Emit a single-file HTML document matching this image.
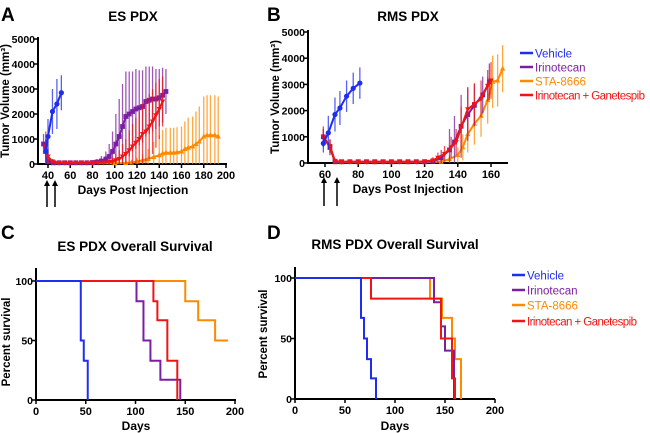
<!DOCTYPE html>
<html><head><meta charset="utf-8"><style>
body{margin:0;background:#fff}
svg{display:block;font-family:"Liberation Sans",Arial,sans-serif;font-weight:bold}
</style></head><body>
<svg id="fig" width="650" height="433" viewBox="0 0 650 433">
<g id="static"></g>
</svg>
<script>
// ---- Panel A data (ES PDX tumor volume) ----
const aVehDays=[38,40,44,48,52];
const aVehVal=[500,1100,2100,2400,2850];
const aVehErr=[500,700,900,1000,700];
const aIriDays=[36,40,45,50,55,60,65,70,75,80,84,88,92,95,98,101,104,107,110,113,116,119,122,125,128,131,134,137,140,143,146];
const aIriVal=[800,100,50,50,50,50,50,50,50,60,80,120,200,300,500,800,1100,1500,1900,2000,2100,2200,2250,2300,2500,2550,2600,2600,2650,2750,2900];
const aIriErr=[400,100,50,50,50,50,50,50,50,80,120,200,300,500,800,1200,1500,1700,1800,1700,1600,1600,1500,1450,1400,1350,1300,1200,1150,1100,900];
const aRedDays=[38,40,44,50,55,60,65,70,75,80,85,90,95,98,101,104,107,110,113,116,119,122,125,128,131,134,137,140,143];
const aRedVal=[700,300,100,50,50,50,50,50,50,50,50,60,80,100,150,200,300,400,550,700,850,1000,1200,1300,1500,1700,1950,2200,2500];
const aRedErr=[600,300,100,50,50,50,50,50,50,50,50,60,100,150,250,350,500,600,800,900,1000,1100,1200,1300,1300,1300,1300,1200,1000];
const aStaDays=[40,45,60,80,100,110,115,120,125,130,135,140,143,146,150,153,156,160,163,166,170,173,176,180,183,186,190,193];
const aStaVal=[100,30,30,30,30,40,60,100,150,200,280,350,420,450,450,450,470,500,600,650,700,800,900,1100,1150,1150,1150,1100];
const aStaErr=[100,30,30,30,30,50,80,150,250,400,600,800,950,1000,1000,1000,1000,1000,1100,1200,1200,1300,1400,1600,1600,1600,1600,1600];
// ---- Panel B data (RMS PDX tumor volume) ----
const bVehDays=[59,62,66,69,73,77,81];
const bVehVal=[750,1150,1850,2100,2550,2850,3050];
const bVehErr=[350,650,650,650,600,600,600];
const bIriDays=[59,63,66,70,75,80,85,90,95,100,105,110,115,120,125,130,135,138,142,146,150,155,159];
const bIriVal=[1000,600,50,50,50,50,50,50,50,50,50,50,50,50,60,200,500,800,1400,1850,2200,2600,3100];
const bIriErr=[300,300,50,50,50,50,50,50,50,50,50,50,50,50,100,300,800,1000,1200,1000,800,700,700];
const bStaDays=[59,63,66,70,80,90,100,110,120,130,135,140,143,146,150,154,158,161,164,167];
const bStaVal=[1000,600,30,30,30,30,30,30,30,50,150,300,600,1100,1500,1800,2400,3100,3150,3600];
const bStaErr=[300,300,30,30,30,30,30,30,30,50,150,300,500,700,800,800,900,1000,1000,900];
const bRedDays=[59,63,66,70,75,80,85,90,95,100,105,110,115,120,125,128,132,136,139,142,146,150,154,158,160];
const bRedVal=[1000,650,80,50,50,50,50,50,50,50,50,50,50,60,100,200,350,600,800,1350,2050,2250,2450,2950,3150];
const bRedErr=[400,250,100,80,80,80,80,80,80,80,80,80,80,80,120,200,300,400,500,800,850,800,700,600,700];
// ---- Panel C data (ES survival) ----
const cVehT=[0,45,48,52];const cVehS=[100,50,33,0];
const cIriT=[0,101,108,115,125,145];const cIriS=[100,83,50,33,17,0];
const cRedT=[0,118,122,132,142];const cRedS=[100,83,67,33,0];
const cStaT=[0,150,163,180,193];const cStaS=[100,83,67,50,50];
// ---- Panel D data (RMS survival) ----
const dVehT=[0,66,69,72,76,81];const dVehS=[100,67,50,33,17,0];
const dIriT=[0,139,146,150,159];const dIriS=[100,80,60,40,0];
const dStaT=[0,135,147,157,160,166];const dStaS=[100,83,67,50,33,0];
const dRedT=[0,76,146,157,160];const dRedS=[100,83,50,17,0];
const legendNames=["Vehicle","Irinotecan","STA-8666","Irinotecan + Ganetespib"];
const colors=["#1f2df0","#7b1fa2","#ff8a00","#f01414"];
const volTicks=[0,1000,2000,3000,4000,5000];
const aXTicks=[40,60,80,100,120,140,160,180,200];
const bXTicks=[60,80,100,120,140,160];
const survYTicks=[0,50,100];
const survXTicks=[0,50,100,150,200];

const NS="http://www.w3.org/2000/svg";
const svg=document.getElementById('fig');
function el(tag,attrs,parent,text){const e=document.createElementNS(NS,tag);for(const k in attrs)e.setAttribute(k,attrs[k]);if(text!==undefined)e.textContent=text;(parent||svg).appendChild(e);return e;}

const axA={x:d=>48+(d-40)*1.1125,y:v=>164-v*0.025};
const axB={x:d=>325+(d-60)*1.66,y:v=>163-v*0.0262};
const axC={x:d=>36+d*0.995,y:p=>400-p*1.19};
const axD={x:d=>295+d*1.0,y:p=>399-p*1.21};

function txt(x,y,s,size,anchor,name,fill,extra){const t=el('text',Object.assign({x:x,y:y,'font-size':size,'text-anchor':anchor||'start',fill:fill||'#000'},extra||{}),svg,s);

return t;}

function axes(ax,x0,x1,yTop,yTicks,xTicks,yfmt,prefix){
  const g=el('g',{});
  
  
  const yb=ax.y(yTicks[0]);
  el('line',{x1:x0,y1:yTop,x2:x0,y2:yb+1,stroke:'#000','stroke-width':2},g);
  el('line',{x1:x0-1,y1:yb,x2:x1,y2:yb,stroke:'#000','stroke-width':2},g);
  yTicks.forEach(v=>{const y=ax.y(v);el('line',{x1:x0-4,y1:y,x2:x0,y2:y,stroke:'#000','stroke-width':1.5},g);
    const t=el('text',{x:x0-3,y:y+4,'font-size':10.5,'text-anchor':'end'},g,v);
    
    });
  xTicks.forEach(d=>{const x=ax.x(d);el('line',{x1:x,y1:yb,x2:x,y2:yb+4,stroke:'#000','stroke-width':1.5},g);
    const t=el('text',{x:x,y:yb+15,'font-size':11,'text-anchor':'middle'},g,d);
    
    });
}

function series(ax,days,vals,errs,color,marker,name){
  const g=el('g',{});
  
  
  days.forEach((d,i)=>{const x=ax.x(d);el('line',{x1:x,y1:ax.y(Math.max(0,vals[i]-errs[i])),x2:x,y2:ax.y(vals[i]+errs[i]),stroke:color,'stroke-width':1.3,'stroke-opacity':0.75},g);});
  el('polyline',{points:days.map((d,i)=>ax.x(d)+','+ax.y(vals[i])).join(' '),fill:'none',stroke:color,'stroke-width':2},g);
  days.forEach((d,i)=>{const x=ax.x(d),y=ax.y(vals[i]);let m;
    if(marker==='o')m=el('circle',{cx:x,cy:y,r:2.6,fill:color},g);
    else if(marker==='s')m=el('rect',{x:x-2.4,y:y-2.4,width:4.8,height:4.8,fill:color},g);
    else if(marker==='^')m=el('polygon',{points:`${x},${y-3} ${x-2.6},${y+2} ${x+2.6},${y+2}`,fill:color},g);
    else m=el('polygon',{points:`${x},${y+3} ${x-2.6},${y-2} ${x+2.6},${y-2}`,fill:color},g);
    
    });
}

function step(ax,T,S,color,name){
  let pts=[];for(let i=0;i<T.length;i++){if(i>0)pts.push(ax.x(T[i])+','+ax.y(S[i-1]));pts.push(ax.x(T[i])+','+ax.y(S[i]));}
  const p=el('polyline',{points:pts.join(' '),fill:'none',stroke:color,'stroke-width':2});
  
  
}

function legend(x,ys,prefix){
  legendNames.forEach((n,i)=>{const g=el('g',{});
    
    
    el('line',{x1:x,y1:ys[i],x2:x+13,y2:ys[i],stroke:colors[i],'stroke-width':2.5},g);
    const a={x:x+15,y:ys[i]+4.5,'font-size':11.5,'font-weight':'normal',fill:colors[i]};
    if(i===3){a.textLength=110;a.lengthAdjust='spacing';}
    el('text',a,g,n);});
}
function arrow(x,y1,y2,name){const g=el('g',{});
  
  
  el('line',{x1:x,y1:y1+4,x2:x,y2:y2,stroke:'#000','stroke-width':1.5},g);
  el('polygon',{points:`${x},${y1} ${x-3},${y1+6} ${x+3},${y1+6}`,fill:'#000'},g);}

// Panel A
txt(1,21,'A',19,'start','panel-a-label');
txt(133,21,'ES PDX',13.5,'middle','panel-a-title');
axes(axA,38,227,37,volTicks,aXTicks,null,'panel-a');
series(axA,aStaDays,aStaVal,aStaErr,colors[2],'^','panel-a-sta8666');
series(axA,aIriDays,aIriVal,aIriErr,colors[1],'s','panel-a-irinotecan');
series(axA,aRedDays,aRedVal,aRedErr,colors[3],'v','panel-a-combo');
series(axA,aVehDays,aVehVal,aVehErr,colors[0],'o','panel-a-vehicle');
txt(133,194,'Days Post Injection',12,'middle','panel-a-x-axis-title');
txt(9,101,'Tumor Volume (mm³)',11.5,'middle','panel-a-y-axis-title','#000',{transform:'rotate(-90 9 101)'});
arrow(47,180,207,'panel-a-dose-arrow-1');arrow(55,180,207,'panel-a-dose-arrow-2');
// Panel B
txt(267,21,'B',19,'start','panel-b-label');
txt(408,21,'RMS PDX',13.5,'middle','panel-b-title');
axes(axB,308,508,30,volTicks,bXTicks,null,'panel-b');
series(axB,bStaDays,bStaVal,bStaErr,colors[2],'^','panel-b-sta8666');
series(axB,bIriDays,bIriVal,bIriErr,colors[1],'s','panel-b-irinotecan');
series(axB,bRedDays,bRedVal,bRedErr,colors[3],'v','panel-b-combo');
series(axB,bVehDays,bVehVal,bVehErr,colors[0],'o','panel-b-vehicle');
txt(408,193,'Days Post Injection',12,'middle','panel-b-x-axis-title');
txt(279,97,'Tumor Volume (mm³)',11.5,'middle','panel-b-y-axis-title','#000',{transform:'rotate(-90 279 97)'});
arrow(324,177,206,'panel-b-dose-arrow-1');arrow(337,177,206,'panel-b-dose-arrow-2');
legend(520,[53,67,81,95],'panel-b');
// Panel C
txt(1,239,'C',19,'start','panel-c-label');
txt(135,251,'ES PDX Overall Survival',13.5,'middle','panel-c-title');
axes(axC,36,236,268,survYTicks,survXTicks,null,'panel-c');
step(axC,cStaT,cStaS,colors[2],'panel-c-sta8666-curve');
step(axC,cIriT,cIriS,colors[1],'panel-c-irinotecan-curve');
step(axC,cRedT,cRedS,colors[3],'panel-c-combo-curve');
step(axC,cVehT,cVehS,colors[0],'panel-c-vehicle-curve');
txt(136,430,'Days',12,'middle','panel-c-x-axis-title');
txt(10,342,'Percent survival',11.5,'middle','panel-c-y-axis-title','#000',{transform:'rotate(-90 10 342)'});
// Panel D
txt(267,239,'D',19,'start','panel-d-label');
txt(395,249,'RMS PDX Overall Survival',13.5,'middle','panel-d-title');
axes(axD,295,495,267,survYTicks,survXTicks,null,'panel-d');
step(axD,dStaT,dStaS,colors[2],'panel-d-sta8666-curve');
step(axD,dIriT,dIriS,colors[1],'panel-d-irinotecan-curve');
step(axD,dRedT,dRedS,colors[3],'panel-d-combo-curve');
step(axD,dVehT,dVehS,colors[0],'panel-d-vehicle-curve');
txt(395,430,'Days',12,'middle','panel-d-x-axis-title');
txt(267,334,'Percent survival',11.5,'middle','panel-d-y-axis-title','#000',{transform:'rotate(-90 267 334)'});
legend(512,[275,290,305,321],'panel-d');
</script>
</body></html>
